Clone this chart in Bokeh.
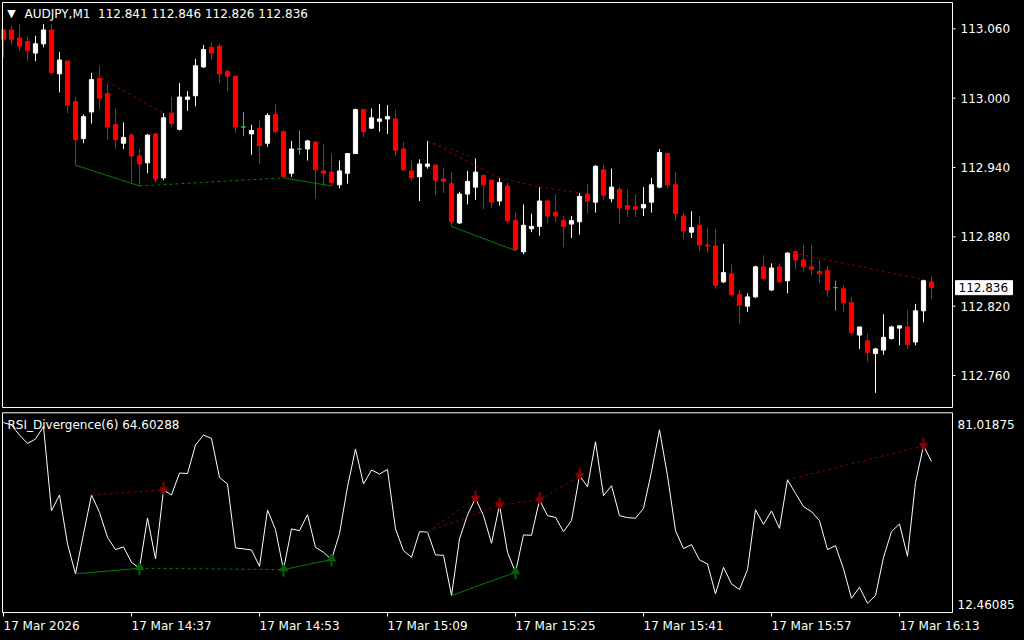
from bokeh.plotting import figure
from bokeh.layouts import column
from bokeh.models import ColumnDataSource, Range1d, GlobalInlineStyleSheet
from bokeh.core.properties import value
from bokeh.embed import file_html
from bokeh.resources import INLINE

# ---------------- data ----------------
symbol = "AUDJPY,M1"
indicator_name = "RSI_Divergence(6)"

time_label_bars = [0, 16, 32, 48, 64, 80, 96, 112]
time_labels = ["17 Mar 2026", "17 Mar 14:37", "17 Mar 14:53", "17 Mar 15:09",
               "17 Mar 15:25", "17 Mar 15:41", "17 Mar 15:57", "17 Mar 16:13"]

price_ticks = [113.060, 113.000, 112.940, 112.880, 112.820, 112.760]
rsi_scale_max = 81.01875
rsi_scale_min = 12.46085

opens = [113.059, 113.059, 113.052, 113.049, 113.039, 113.047, 113.059, 113.021, 113.032, 112.997,
         112.965, 112.988, 113.017, 113.004, 112.977, 112.961, 112.968, 112.950, 112.944, 112.969,
         112.931, 112.987, 112.973, 112.999, 113.002, 113.027, 113.044, 113.045, 113.023, 113.019,
         112.975, 112.969, 112.974, 112.961, 112.986, 112.971, 112.935, 112.956, 112.956, 112.962,
         112.937, 112.936, 112.925, 112.935, 112.952, 112.990, 112.974, 112.980, 112.982, 112.982,
         112.956, 112.937, 112.932, 112.941, 112.942, 112.930, 112.926, 112.892, 112.917, 112.923,
         112.933, 112.929, 112.911, 112.924, 112.894, 112.867, 112.887, 112.889, 112.911, 112.901,
         112.894, 112.891, 112.893, 112.917, 112.910, 112.938, 112.913, 112.921, 112.907, 112.906,
         112.905, 112.910, 112.923, 112.952, 112.925, 112.898, 112.884, 112.890, 112.873, 112.872,
         112.841, 112.848, 112.830, 112.820, 112.828, 112.854, 112.834, 112.854, 112.842, 112.867,
         112.860, 112.854, 112.850, 112.851, 112.836, 112.835, 112.823, 112.795, 112.790, 112.779,
         112.782, 112.792, 112.801, 112.802, 112.789, 112.816, 112.841]
highs = [113.060, 113.063, 113.064, 113.053, 113.054, 113.064, 113.064, 113.040, 113.033, 113.001,
         112.986, 113.022, 113.028, 113.012, 112.991, 112.979, 112.970, 112.956, 112.969, 112.970,
         112.987, 113.001, 113.013, 113.006, 113.034, 113.046, 113.048, 113.047, 113.025, 113.020,
         112.988, 112.977, 112.981, 112.987, 112.995, 112.972, 112.963, 112.972, 112.964, 112.963,
         112.960, 112.952, 112.946, 112.952, 112.991, 112.991, 112.991, 112.995, 112.994, 112.990,
         112.962, 112.946, 112.947, 112.963, 112.943, 112.940, 112.936, 112.919, 112.937, 112.948,
         112.934, 112.930, 112.931, 112.927, 112.901, 112.908, 112.900, 112.923, 112.912, 112.917,
         112.898, 112.898, 112.918, 112.926, 112.942, 112.942, 112.939, 112.923, 112.921, 112.917,
         112.923, 112.931, 112.956, 112.952, 112.936, 112.901, 112.902, 112.898, 112.888, 112.887,
         112.874, 112.856, 112.834, 112.831, 112.855, 112.864, 112.857, 112.857, 112.867, 112.868,
         112.873, 112.873, 112.860, 112.855, 112.842, 112.838, 112.828, 112.802, 112.796, 112.784,
         112.813, 112.803, 112.803, 112.817, 112.822, 112.843, 112.846]
lows = [113.035, 113.046, 113.041, 113.032, 113.032, 113.044, 113.021, 113.005, 112.987, 112.942,
        112.961, 112.978, 112.990, 112.964, 112.956, 112.956, 112.927, 112.924, 112.935, 112.927,
        112.929, 112.975, 112.972, 112.989, 112.993, 113.026, 113.033, 113.013, 113.006, 112.970,
        112.967, 112.951, 112.943, 112.958, 112.969, 112.931, 112.932, 112.951, 112.946, 112.913,
        112.925, 112.924, 112.922, 112.926, 112.952, 112.966, 112.974, 112.971, 112.969, 112.950,
        112.937, 112.929, 112.911, 112.939, 112.916, 112.918, 112.889, 112.891, 112.908, 112.912,
        112.904, 112.905, 112.907, 112.892, 112.868, 112.865, 112.884, 112.881, 112.892, 112.893,
        112.871, 112.879, 112.882, 112.900, 112.901, 112.912, 112.910, 112.891, 112.897, 112.897,
        112.898, 112.901, 112.922, 112.922, 112.894, 112.878, 112.879, 112.868, 112.866, 112.835,
        112.840, 112.829, 112.805, 112.815, 112.827, 112.843, 112.833, 112.840, 112.831, 112.852,
        112.850, 112.847, 112.840, 112.828, 112.816, 112.815, 112.796, 112.783, 112.772, 112.745,
        112.778, 112.791, 112.786, 112.783, 112.786, 112.806, 112.826]
closes = [113.051, 113.051, 113.045, 113.041, 113.047, 113.059, 113.022, 113.033, 112.994, 112.964,
          112.984, 113.016, 113.000, 112.975, 112.964, 112.966, 112.950, 112.943, 112.968, 112.930,
          112.983, 112.978, 113.001, 113.001, 113.028, 113.042, 113.039, 113.021, 113.019, 112.975,
          112.975, 112.972, 112.959, 112.985, 112.971, 112.932, 112.956, 112.956, 112.963, 112.938,
          112.935, 112.927, 112.937, 112.952, 112.990, 112.971, 112.983, 112.982, 112.984, 112.955,
          112.938, 112.931, 112.943, 112.943, 112.929, 112.928, 112.893, 112.917, 112.928, 112.936,
          112.925, 112.910, 112.927, 112.894, 112.869, 112.890, 112.889, 112.911, 112.898, 112.898,
          112.889, 112.894, 112.915, 112.911, 112.941, 112.916, 112.923, 112.905, 112.904, 112.904,
          112.908, 112.925, 112.953, 112.925, 112.900, 112.885, 112.888, 112.873, 112.872, 112.838,
          112.849, 112.830, 112.821, 112.828, 112.854, 112.844, 112.853, 112.841, 112.866, 112.860,
          112.854, 112.852, 112.848, 112.834, 112.836, 112.823, 112.797, 112.802, 112.780, 112.783,
          112.793, 112.802, 112.803, 112.787, 112.816, 112.842, 112.836]

rsi = [78.00, 77.13, 73.68, 70.79, 72.30, 76.64, 47.60, 53.01, 36.13, 25.79,
       39.57, 53.01, 47.01, 38.40, 34.16, 35.09, 29.79, 27.72, 45.09, 30.96,
       54.73, 53.01, 60.59, 60.40, 70.23, 73.68, 72.51, 59.07, 56.80, 34.75,
       34.41, 34.06, 28.41, 47.84, 41.05, 27.27, 41.30, 40.71, 46.22, 34.96,
       33.23, 30.72, 39.68, 55.87, 68.86, 56.80, 61.62, 60.24, 61.79, 41.30,
       33.82, 31.51, 40.37, 40.20, 32.34, 32.20, 18.32, 37.85, 46.12, 51.84,
       45.88, 36.33, 49.56, 33.23, 26.34, 39.23, 39.10, 51.29, 45.88, 45.29,
       40.37, 44.15, 59.66, 55.87, 71.37, 52.77, 56.21, 45.88, 45.19, 45.00,
       48.39, 61.04, 75.51, 59.66, 40.71, 34.51, 35.89, 30.62, 29.24, 18.90,
       28.07, 22.35, 20.38, 27.27, 47.94, 42.88, 47.50, 41.50, 58.28, 53.56,
       48.98, 47.26, 44.15, 34.16, 35.54, 27.52, 17.39, 21.18, 15.66, 18.32,
       31.51, 40.37, 43.02, 31.86, 57.35, 69.99, 64.60288]

# divergences: (start bar, end bar)
bull_div = [(9, 17), (17, 35), (35, 41), (56, 64)]
bear_div = [(11, 20), (53, 59), (53, 62), (62, 67), (67, 72), (98, 115)]
bull_dashed = [False, True, False, False]

# ---------------- layout / style ----------------
FONT = value("DejaVu Sans")
FS = "12px"
BULL_C = "#FFFFFF"
BEAR_C = "#FF0000"
DOJI_C = "#32CD32"
DIV_GREEN = "#008000"
DIV_RED = "#8B0000"
ARROW_GREEN = "#006400"
ARROW_RED = "#8B0000"
W = 1024
H1, H2 = 409, 231

BAR_PX = 8.0                      # pixels per bar
X0, X1 = -0.375, 127.625          # x range across the whole canvas
PANEL_L, PANEL_R = -0.125, 118.625  # chart window borders (bars)

PRICE_PX = 346.7 / 0.3            # pixels per price unit
P_TOP, P_BOT = 113.08449, 112.73058   # canvas extent of price pane
MAIN_TOP, MAIN_BOT = 113.08276, 112.73231

RSI_UNIT = 0.34451                # rsi units per pixel
R_TOP, R_BOT = 82.4964, 2.8145    # canvas extent of indicator pane
SUB_TOP = 81.3629
SUB_BOT = rsi_scale_min

n = len(opens)
xs = list(range(n))
cols = [BULL_C if c > o else (BEAR_C if c < o else DOJI_C) for o, c in zip(opens, closes)]
src = ColumnDataSource(dict(
    x=xs, h=highs, l=lows,
    top=[max(o, c) for o, c in zip(opens, closes)],
    bot=[min(o, c) for o, c in zip(opens, closes)],
    col=cols))

x_range = Range1d(X0, X1)
common = dict(output_backend="svg", toolbar_location=None,
              background_fill_color="black", border_fill_color="black",
              outline_line_color=None, x_axis_location=None, y_axis_location=None,
              min_border=0, width=W)

# ---------------- price pane ----------------
p1 = figure(height=H1, x_range=x_range, y_range=Range1d(P_BOT, P_TOP), **common)
p1.xgrid.visible = False
p1.ygrid.visible = False

p1.segment(x0="x", y0="l", x1="x", y1="h", line_color="col", line_width=1, source=src)
p1.vbar(x="x", width=0.52, top="top", bottom="bot", fill_color="col",
        line_color="col", line_width=1, source=src)

for (a, b), dashed in zip(bull_div, bull_dashed):
    p1.line([a, b], [lows[a], lows[b]], line_color=DIV_GREEN, line_width=1,
            line_dash="3 3" if dashed else "solid")
for a, b in bear_div:
    p1.line([a, b], [highs[a], highs[b]], line_color=DIV_RED, line_width=1, line_dash="3 3")

# window border
p1.quad(left=[PANEL_L], right=[PANEL_R], top=[MAIN_TOP], bottom=[MAIN_BOT],
        fill_color=None, line_color="white", line_width=1)

# price scale
p1.segment(x0=[PANEL_R] * len(price_ticks), x1=[PANEL_R + 3 / BAR_PX] * len(price_ticks),
           y0=price_ticks, y1=price_ticks, line_color="white", line_width=1)
p1.text(x=[PANEL_R + 8 / BAR_PX] * len(price_ticks), y=price_ticks,
        text=["%.3f" % t for t in price_ticks], text_color="white", text_font=FONT,
        text_font_size=FS, text_align="left", text_baseline="middle")

# current price box
last = closes[-1]
p1.quad(left=[PANEL_R + 3 / BAR_PX], right=[PANEL_R + 60 / BAR_PX],
        top=[last + 7 / PRICE_PX], bottom=[last - 7 / PRICE_PX],
        fill_color="white", line_color="white")
p1.text(x=[PANEL_R + 6 / BAR_PX], y=[last], text=["%.3f" % last], text_color="black",
        text_font=FONT, text_font_size=FS, text_align="left", text_baseline="middle")

# chart title
p1.text(x=[PANEL_L + 9 / BAR_PX], y=[MAIN_TOP - 11 / PRICE_PX], text=["\u25BC"],
        text_color="white", text_font=FONT, text_font_size="11px",
        text_align="center", text_baseline="middle")
title_txt = "%s\u00a0 %.3f %.3f %.3f %.3f" % (symbol, opens[-1], highs[-1], lows[-1], closes[-1])
p1.text(x=[PANEL_L + 22 / BAR_PX], y=[MAIN_TOP - 12 / PRICE_PX], text=[title_txt],
        text_color="white", text_font=FONT, text_font_size=FS,
        text_align="left", text_baseline="middle")

# ---------------- indicator pane ----------------
p2 = figure(height=H2, x_range=x_range, y_range=Range1d(R_BOT, R_TOP), **common)
p2.xgrid.visible = False
p2.ygrid.visible = False

p2.line(xs, rsi, line_color="white", line_width=1)

for (a, b), dashed in zip(bull_div, bull_dashed):
    p2.line([a, b], [rsi[a], rsi[b]], line_color=DIV_GREEN, line_width=1,
            line_dash="3 3" if dashed else "solid")
for a, b in bear_div:
    p2.line([a, b], [rsi[a], rsi[b]], line_color=DIV_RED, line_width=1, line_dash="3 3")

# divergence arrows (head + shaft)
up_bars = [b for a, b in bull_div]
dn_bars = [b for a, b in bear_div]
up_y = [rsi[i] for i in up_bars]
dn_y = [rsi[i] for i in dn_bars]
p2.segment(x0=up_bars, x1=up_bars, y0=[v - 1 * RSI_UNIT for v in up_y],
           y1=[v - 7 * RSI_UNIT for v in up_y], line_color=ARROW_GREEN, line_width=2)
p2.scatter(x=up_bars, y=[v + 1 * RSI_UNIT for v in up_y], marker="triangle", size=8,
           fill_color=ARROW_GREEN, line_color=ARROW_GREEN)
p2.segment(x0=dn_bars, x1=dn_bars, y0=[v + 2 * RSI_UNIT for v in dn_y],
           y1=[v + 8 * RSI_UNIT for v in dn_y], line_color=ARROW_RED, line_width=2)
p2.scatter(x=dn_bars, y=[v + 0 * RSI_UNIT for v in dn_y], marker="inverted_triangle", size=8,
           fill_color=ARROW_RED, line_color=ARROW_RED)

# window border
p2.quad(left=[PANEL_L], right=[PANEL_R], top=[SUB_TOP], bottom=[SUB_BOT],
        fill_color=None, line_color="white", line_width=1)

# indicator scale labels
p2.text(x=[PANEL_R + 5 / BAR_PX] * 2,
        y=[SUB_TOP - 12 * RSI_UNIT, SUB_BOT + 8 * RSI_UNIT],
        text=["%.5f" % rsi_scale_max, "%.5f" % rsi_scale_min],
        text_color="white", text_font=FONT, text_font_size=FS,
        text_align="left", text_baseline="middle")

# indicator name
p2.text(x=[PANEL_L + 5 / BAR_PX], y=[SUB_TOP - 12 * RSI_UNIT],
        text=["%s %.5f" % (indicator_name, rsi[-1])],
        text_color="white", text_font=FONT, text_font_size=FS,
        text_align="left", text_baseline="middle")

# time scale
nt = len(time_label_bars)
p2.segment(x0=time_label_bars, x1=time_label_bars, y0=[SUB_BOT] * nt,
           y1=[SUB_BOT - 4 * RSI_UNIT] * nt, line_color="white", line_width=1)
p2.text(x=time_label_bars, y=[SUB_BOT - 13 * RSI_UNIT] * nt, text=time_labels,
        text_color="white", text_font=FONT, text_font_size=FS,
        text_align="left", text_baseline="middle")

p = column(p1, p2, spacing=0,
           stylesheets=[GlobalInlineStyleSheet(css="html, body { background: #000000; }")])

open("out.html", "w").write(file_html(p, INLINE))
